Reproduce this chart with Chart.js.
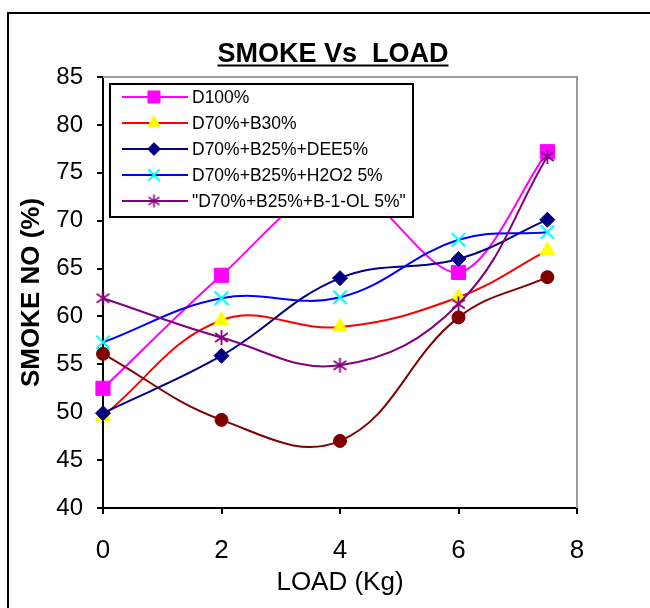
<!DOCTYPE html>
<html>
<head>
<meta charset="utf-8">
<script src="https://cdn.jsdelivr.net/npm/chart.js@4.4.1/dist/chart.umd.min.js"></script>
<style>
  html, body { margin: 0; padding: 0; background: #fff; }
  canvas { display: block; }
</style>
</head>
<body>
<canvas id="smoke" width="650" height="608"></canvas>
<script>
// Engine load (kg) and smoke number (%) for each fuel blend
const loads = [0, 2, 4, 6, 7.5];
const d100 = [52.5, 64.3, 74, 64.6, 77.2];
const d70b30 = [49.6, 59.6, 58.9, 62, 66.9];
const d70b25dee5 = [49.9, 55.9, 64, 66, 70.1];
const d70b25h2o2 = [57.3, 61.9, 62, 68, 68.8];
const d70b25butanol = [61.9, 57.8, 54.9, 61.3, 76.7];
const extraSeries = [56.1, 49.2, 47, 59.9, 64.1];

const seriesNames = [
  'D100%',
  'D70%+B30%',
  'D70%+B25%+DEE5%',
  'D70%+B25%+H2O2 5%',
  '"D70%+B25%+B-1-OL 5%"',
  ''
];

const xTickValues = [0, 2, 4, 6, 8];
const yTickValues = [40, 45, 50, 55, 60, 65, 70, 75, 80, 85];

const FONT = '"Liberation Sans", Arial, sans-serif';

// six-armed asterisk marker
function asterisk(color, size, lw) {
  const c = document.createElement('canvas');
  c.width = size; c.height = size;
  const g = c.getContext('2d');
  const m = size / 2, r = size / 2 - 1;
  g.strokeStyle = color;
  g.lineWidth = lw;
  g.beginPath();
  g.moveTo(m, m - r); g.lineTo(m, m + r);
  g.moveTo(m - r * 0.85, m - r * 0.6); g.lineTo(m + r * 0.85, m + r * 0.6);
  g.moveTo(m + r * 0.85, m - r * 0.6); g.lineTo(m - r * 0.85, m + r * 0.6);
  g.stroke();
  return c;
}
const starBig = asterisk('#800080', 17, 1.8);
const starSmall = asterisk('#800080', 15, 1.6);

function pts(values) {
  return values.map((v, i) => ({ x: loads[i], y: v }));
}

const styles = [
  { line: '#FF00FF', fill: '#FF00FF', pointStyle: 'rect', r: 10, tension: 0.3 },
  { line: '#FF0000', fill: '#FFFF00', pointStyle: 'triangle', r: 8.5 },
  { line: '#000080', fill: '#000080', pointStyle: 'rectRot', r: 7.5 },
  { line: '#0000FF', fill: '#00FFFF', pointStyle: 'crossRot', r: 9.5, stroke: 2 },
  { line: '#800080', fill: '#800080', pointStyle: starBig, legendStyle: starSmall, r: 8 },
  { line: '#800000', fill: '#800000', pointStyle: 'circle', r: 6.5 }
];
const values = [d100, d70b30, d70b25dee5, d70b25h2o2, d70b25butanol, extraSeries];

const datasets = values.map((v, i) => {
  const s = styles[i];
  return {
    label: seriesNames[i],
    data: pts(v),
    borderColor: s.line,
    borderWidth: 2,
    tension: s.tension !== undefined ? s.tension : 0.4,
    fill: false,
    clip: false,
    pointStyle: s.pointStyle,
    pointRadius: s.r,
    pointBackgroundColor: s.fill,
    pointBorderColor: s.fill,
    pointBorderWidth: s.stroke || 1,
    order: values.length - i
  };
});

const decor = {
  id: 'decor',
  beforeDraw(chart) {
    const ctx = chart.ctx;
    ctx.save();
    ctx.fillStyle = '#fff';
    ctx.fillRect(0, 0, chart.width, chart.height);
    // outer frame
    ctx.strokeStyle = '#000';
    ctx.lineWidth = 2;
    ctx.beginPath();
    ctx.moveTo(8, chart.height + 5);
    ctx.lineTo(8, 13);
    ctx.lineTo(chart.width + 5, 13);
    ctx.stroke();
    ctx.restore();
  },
  beforeDatasetsDraw(chart) {
    const { ctx, chartArea: a } = chart;
    ctx.save();
    ctx.strokeStyle = '#9a9a9a';
    ctx.lineWidth = 2;
    ctx.beginPath();
    ctx.moveTo(a.left, a.top);
    ctx.lineTo(a.right, a.top);
    ctx.lineTo(a.right, a.bottom);
    ctx.stroke();
    ctx.restore();
  },
  afterDraw(chart) {
    const ctx = chart.ctx;
    ctx.save();
    // title
    ctx.font = 'bold 27px ' + FONT;
    ctx.fillStyle = '#000';
    ctx.textAlign = 'center';
    ctx.textBaseline = 'alphabetic';
    const title = 'SMOKE Vs  LOAD';
    const tx = 333, ty = 61.5;
    ctx.fillText(title, tx, ty);
    const w = ctx.measureText(title).width;
    ctx.strokeStyle = '#000';
    ctx.lineWidth = 2;
    ctx.beginPath();
    ctx.moveTo(tx - w / 2, ty + 4);
    ctx.lineTo(tx + w / 2, ty + 4);
    ctx.stroke();

    // legend box
    const bx = 110, by = 84, bw = 303, bh = 133;
    ctx.fillStyle = '#fff';
    ctx.fillRect(bx, by, bw, bh);
    ctx.strokeStyle = '#000';
    ctx.lineWidth = 2;
    ctx.strokeRect(bx, by, bw, bh);

    ctx.font = '17.5px ' + FONT;
    ctx.textAlign = 'left';
    ctx.textBaseline = 'middle';
    let row = 0;
    chart.data.datasets.forEach((ds, i) => {
      if (!ds.label) return;
      const s = styles[i];
      const y = 97 + row * 26;
      ctx.strokeStyle = s.line;
      ctx.lineWidth = 2;
      ctx.beginPath();
      ctx.moveTo(122, y);
      ctx.lineTo(188, y);
      ctx.stroke();
      ctx.fillStyle = s.fill;
      ctx.strokeStyle = s.fill;
      ctx.lineWidth = s.stroke || 1;
      Chart.helpers.drawPoint(ctx, {
        pointStyle: s.legendStyle || s.pointStyle,
        radius: s.r * 0.85,
        rotation: 0,
        borderWidth: s.stroke || 1
      }, 154, y);
      ctx.fillStyle = '#000';
      ctx.fillText(ds.label, 192, y + 1);
      row++;
    });
    ctx.restore();
  }
};

new Chart(document.getElementById('smoke'), {
  type: 'line',
  data: { datasets },
  options: {
    responsive: false,
    animation: false,
    devicePixelRatio: 1,
    layout: { padding: { left: 0, top: 77, right: 73, bottom: 0 } },
    plugins: {
      legend: { display: false },
      title: { display: false },
      tooltip: { enabled: false }
    },
    scales: {
      x: {
        type: 'linear',
        min: 0,
        max: 8,
        afterBuildTicks: s => { s.ticks = xTickValues.map(v => ({ value: v })); },
        afterFit: s => { s.height = 100; },
        ticks: { font: { family: FONT, size: 26 }, color: '#000', padding: 21 },
        grid: { drawOnChartArea: false, drawTicks: true, tickLength: 6, color: '#000', lineWidth: 2 },
        border: { display: true, color: '#000', width: 2 },
        title: {
          display: true,
          text: 'LOAD (Kg)',
          color: '#000',
          font: { family: FONT, size: 26 },
          padding: { top: 0, bottom: 10 }
        }
      },
      y: {
        type: 'linear',
        min: 40,
        max: 85,
        afterBuildTicks: s => { s.ticks = yTickValues.map(v => ({ value: v })); },
        afterFit: s => { s.width = 103; },
        ticks: { font: { family: FONT, size: 24 }, color: '#000', padding: 14 },
        grid: { drawOnChartArea: false, drawTicks: true, tickLength: 6, color: '#000', lineWidth: 2 },
        border: { display: true, color: '#000', width: 2 },
        title: {
          display: true,
          text: 'SMOKE NO (%)',
          color: '#000',
          font: { family: FONT, size: 26, weight: 'bold' },
          padding: { top: 16, bottom: 0 }
        }
      }
    }
  },
  plugins: [decor]
});
</script>
</body>
</html>
